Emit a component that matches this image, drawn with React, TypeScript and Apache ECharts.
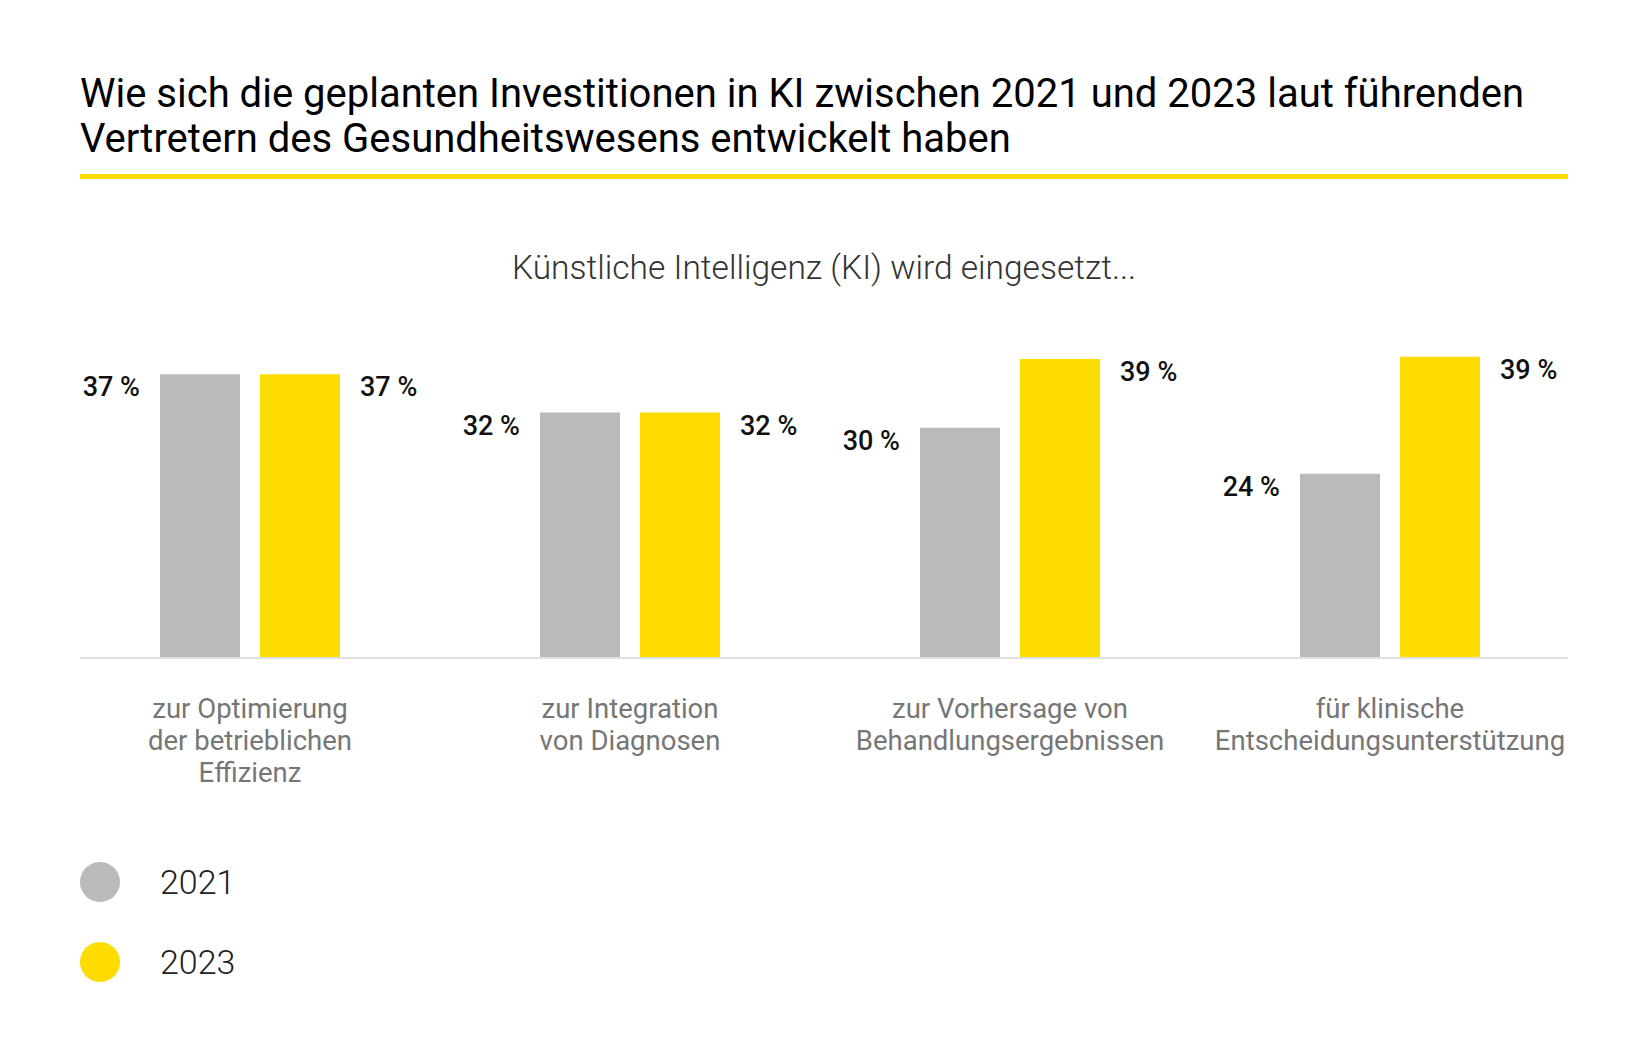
import React, { useEffect, useRef } from "react";
import * as echarts from "echarts";

const categories = [
  "zur Optimierung\nder betrieblichen\nEffizienz",
  "zur Integration\nvon Diagnosen",
  "zur Vorhersage von\nBehandlungsergebnissen",
  "für klinische\nEntscheidungsunterstützung",
];
const values2021 = [37, 32, 30, 24];
const values2023 = [37, 32, 39, 39.3];
const seriesNames = ["2021", "2023"];
const titleText =
  "Wie sich die geplanten Investitionen in KI zwischen 2021 und 2023 laut führenden\nVertretern des Gesundheitswesens entwickelt haben";
const subtitleText = "Künstliche Intelligenz (KI) wird eingesetzt...";

const GRAY = "#BABABA";
const YELLOW = "#FFDC00";
const FONT = "Roboto, 'Noto Sans', sans-serif";
const FONT_LIGHT = "'Roboto Light', Roboto, 'Noto Sans', sans-serif";

export default function App() {
  const ref = useRef<HTMLDivElement>(null);

  useEffect(() => {
    document.body.style.margin = "0";
    document.body.style.overflow = "hidden";
    if (!ref.current) return;
    const chart = echarts.init(ref.current, null, { renderer: "svg" });

    const labelCommon = {
      show: true,
      fontFamily: FONT,
      fontSize: 27,
      fontWeight: 500,
      color: "#111111",
      verticalAlign: "middle",
      formatter: (p: any) => `${Math.round(p.value)} %`,
    };

    chart.setOption({
      animation: false,
      backgroundColor: "#ffffff",
      title: [
        {
          text: titleText,
          left: 80,
          top: 71,
          padding: 0,
          textStyle: {
            fontFamily: FONT,
            fontSize: 40,
            fontWeight: 400,
            color: "#000000",
            lineHeight: 45,
          },
        },
        {
          text: subtitleText,
          left: "center",
          top: 250,
          padding: 0,
          textStyle: {
            fontFamily: FONT_LIGHT,
            fontSize: 33.5,
            fontWeight: 300,
            color: "#333333",
          },
        },
      ],
      legend: {
        orient: "vertical",
        left: 80,
        top: 862,
        padding: 0,
        icon: "circle",
        itemWidth: 40,
        itemHeight: 40,
        itemGap: 40,
        selectedMode: false,
        data: seriesNames,
        textStyle: {
          fontFamily: FONT_LIGHT,
          fontSize: 34,
          fontWeight: 300,
          color: "#222222",
          padding: [0, 0, 0, 35],
        },
      },
      grid: {
        left: 60,
        right: 68,
        top: 275,
        bottom: 399,
        containLabel: false,
      },
      xAxis: {
        type: "category",
        data: categories,
        axisLine: { show: false },
        axisTick: { show: false },
        axisLabel: {
          interval: 0,
          margin: 35,
          fontFamily: FONT,
          fontSize: 27.5,
          lineHeight: 32,
          color: "#767676",
          align: "center",
        },
      },
      yAxis: {
        type: "value",
        min: 0,
        max: 50,
        show: false,
        splitLine: { show: false },
      },
      series: [
        {
          name: seriesNames[0],
          type: "bar",
          data: values2021,
          barWidth: 80,
          barGap: "25%",
          itemStyle: { color: GRAY },
          label: { ...labelCommon, position: [-20, 13], align: "right" },
        },
        {
          name: seriesNames[1],
          type: "bar",
          data: values2023,
          barWidth: 80,
          barGap: "25%",
          itemStyle: { color: YELLOW },
          label: { ...labelCommon, position: [100, 13], align: "left" },
        },
      ],
      graphic: [
        {
          type: "rect",
          shape: { x: 80, y: 174, width: 1488, height: 5 },
          style: { fill: YELLOW },
          silent: true,
        },
        {
          type: "rect",
          shape: { x: 80, y: 657, width: 1488, height: 2 },
          style: { fill: "#E0E0E0" },
          silent: true,
        },
      ],
    });

    return () => chart.dispose();
  }, []);

  return <div ref={ref} style={{ width: 1648, height: 1056 }} />;
}
